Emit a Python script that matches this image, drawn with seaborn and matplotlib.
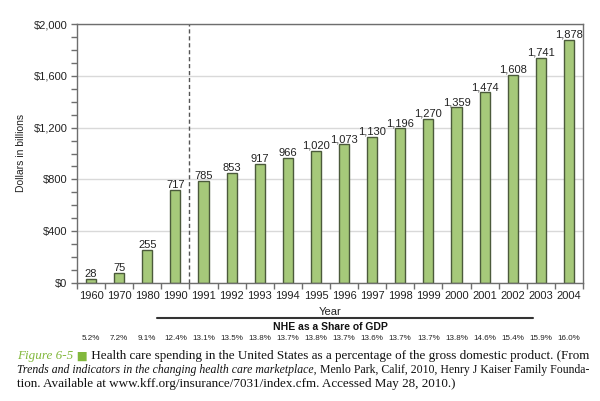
import matplotlib
matplotlib.use("Agg")
import matplotlib.pyplot as plt
from matplotlib.lines import Line2D
from matplotlib.transforms import blended_transform_factory
import seaborn as sns
import pandas as pd

years = ["1960", "1970", "1980", "1990", "1991", "1992", "1993", "1994", "1995",
         "1996", "1997", "1998", "1999", "2000", "2001", "2002", "2003", "2004"]
spending = [28, 75, 255, 717, 785, 853, 917, 966, 1020, 1073, 1130, 1196, 1270,
            1359, 1474, 1608, 1741, 1878]
gdp_share = [5.2, 7.2, 9.1, 12.4, 13.1, 13.5, 13.8, 13.7, 13.8, 13.7, 13.6, 13.7,
             13.7, 13.8, 14.6, 15.4, 15.9, 16.0]
y_ticks = [0, 400, 800, 1200, 1600, 2000]

sns.set_style("white")
plt.rcParams["font.family"] = ["Liberation Sans", "DejaVu Sans"]

W, H = 600, 401
fig = plt.figure(figsize=(W / 100, H / 100), dpi=100)
ax = fig.add_axes([77 / W, 1 - 283 / H, (583 - 77) / W, (283 - 24) / H])

df = pd.DataFrame({"year": years, "spend": spending})
sns.barplot(data=df, x="year", y="spend", order=years, color="#A6C97A",
            edgecolor="#4B5A3B", linewidth=1.0, width=0.36, saturation=1, ax=ax)

ax.set_xlim(-0.5, len(years) - 0.5)
ax.set_ylim(0, 2000)
ax.set_yticks(y_ticks)
ax.set_yticklabels([f"${v:,}" for v in y_ticks])
ax.set_yticks(range(0, 2001, 100), minor=True)
ax.yaxis.grid(True, color="#D9D9D9", linewidth=1)
ax.set_axisbelow(True)

for s in ax.spines.values():
    s.set_color("#6E6E6E")
    s.set_linewidth(1.0)

ax.set_xticks([i + 0.5 for i in range(-1, len(years))], minor=True)
ax.set_xticks(range(len(years)))
ax.set_xticklabels(years)
ax.tick_params(axis="x", which="major", length=0, labelsize=8, labelcolor="#222222", pad=6)
ax.tick_params(axis="x", which="minor", length=4, color="#6E6E6E", width=1, direction="out", bottom=True)
ax.tick_params(axis="y", which="major", length=4, color="#6E6E6E", width=1, labelsize=8,
               labelcolor="#222222", left=True, direction="out", pad=3)
ax.tick_params(axis="y", which="minor", length=4, color="#6E6E6E", width=1, left=True, direction="out")

ax.set_xlabel("")
ax.set_ylabel("")

ax.bar_label(ax.containers[0], labels=[f"{v:,}" for v in spending], padding=0,
             fontsize=8, color="#222222")

ax.axvline(3.5, color="#555555", linestyle=(0, (3, 2)), linewidth=1)

fig.text(330 / W, 1 - 312 / H, "Year", ha="center", va="center", fontsize=8, color="#222222")
fig.add_artist(Line2D([157 / W, 533 / W], [1 - 318 / H, 1 - 318 / H],
                      transform=fig.transFigure, color="#333333", linewidth=1.5))
fig.text(330 / W, 1 - 327 / H, "NHE as a Share of GDP", ha="center", va="center",
         fontsize=7.5, fontweight="bold", color="#111111")
tr = blended_transform_factory(ax.transData, fig.transFigure)
for i, v in enumerate(gdp_share):
    ax.text(i, 1 - 339 / H, f"{v:.1f}%", transform=tr, ha="center", va="center",
            fontsize=5.8, color="#222222")

fig.text(21 / W, 1 - 153 / H, "Dollars in billions", rotation=90, ha="center",
         va="center", fontsize=7.5, color="#222222")

# caption
serif = ["Liberation Serif", "DejaVu Serif"]
green = "#82B83C"
cap_fs = 9.0
x0 = 17 / W
line1 = []
t = fig.text(x0, 1 - 356 / H, "Figure 6-5", fontsize=cap_fs, family=serif, style="italic",
             color=green, va="center")
line1.append(t)
t = plt.annotate(" \u25a0", xy=(1, 0.5), xycoords=t, va="center", fontsize=cap_fs - 1,
                 family=["DejaVu Sans"], color=green)
line1.append(t)
t = plt.annotate(" Health care spending in the United States as a percentage of the gross domestic product. (From",
                 xy=(1, 0.5), xycoords=t, va="center", fontsize=cap_fs, family=serif, color="#111111")
line1.append(t)
line2 = []
t = fig.text(x0, 1 - 370 / H, "Trends and indicators in the changing health care marketplace,",
             fontsize=cap_fs, family=serif, style="italic", color="#111111", va="center")
line2.append(t)
t = plt.annotate(" Menlo Park, Calif, 2010, Henry J Kaiser Family Founda-", xy=(1, 0.5), xycoords=t,
                 va="center", fontsize=cap_fs, family=serif, color="#111111")
line2.append(t)
line3 = [fig.text(x0, 1 - 384 / H,
                  "tion. Available at www.kff.org/insurance/7031/index.cfm. Accessed May 28, 2010.)",
                  fontsize=cap_fs, family=serif, color="#111111", va="center")]

target = 587 - 17
fig.canvas.draw()
r = fig.canvas.get_renderer()
scales = {}
for name, ln in (("l1", line1), ("l2", line2)):
    w = sum(tx.get_window_extent(r).width for tx in ln)
    scales[name] = target / w
for tx in line1:
    tx.set_fontsize(tx.get_fontsize() * scales["l1"])
for tx in line3:
    tx.set_fontsize(tx.get_fontsize() * scales["l1"])
for tx in line2:
    tx.set_fontsize(tx.get_fontsize() * scales["l2"])

fig.savefig("out.png", dpi=100)
